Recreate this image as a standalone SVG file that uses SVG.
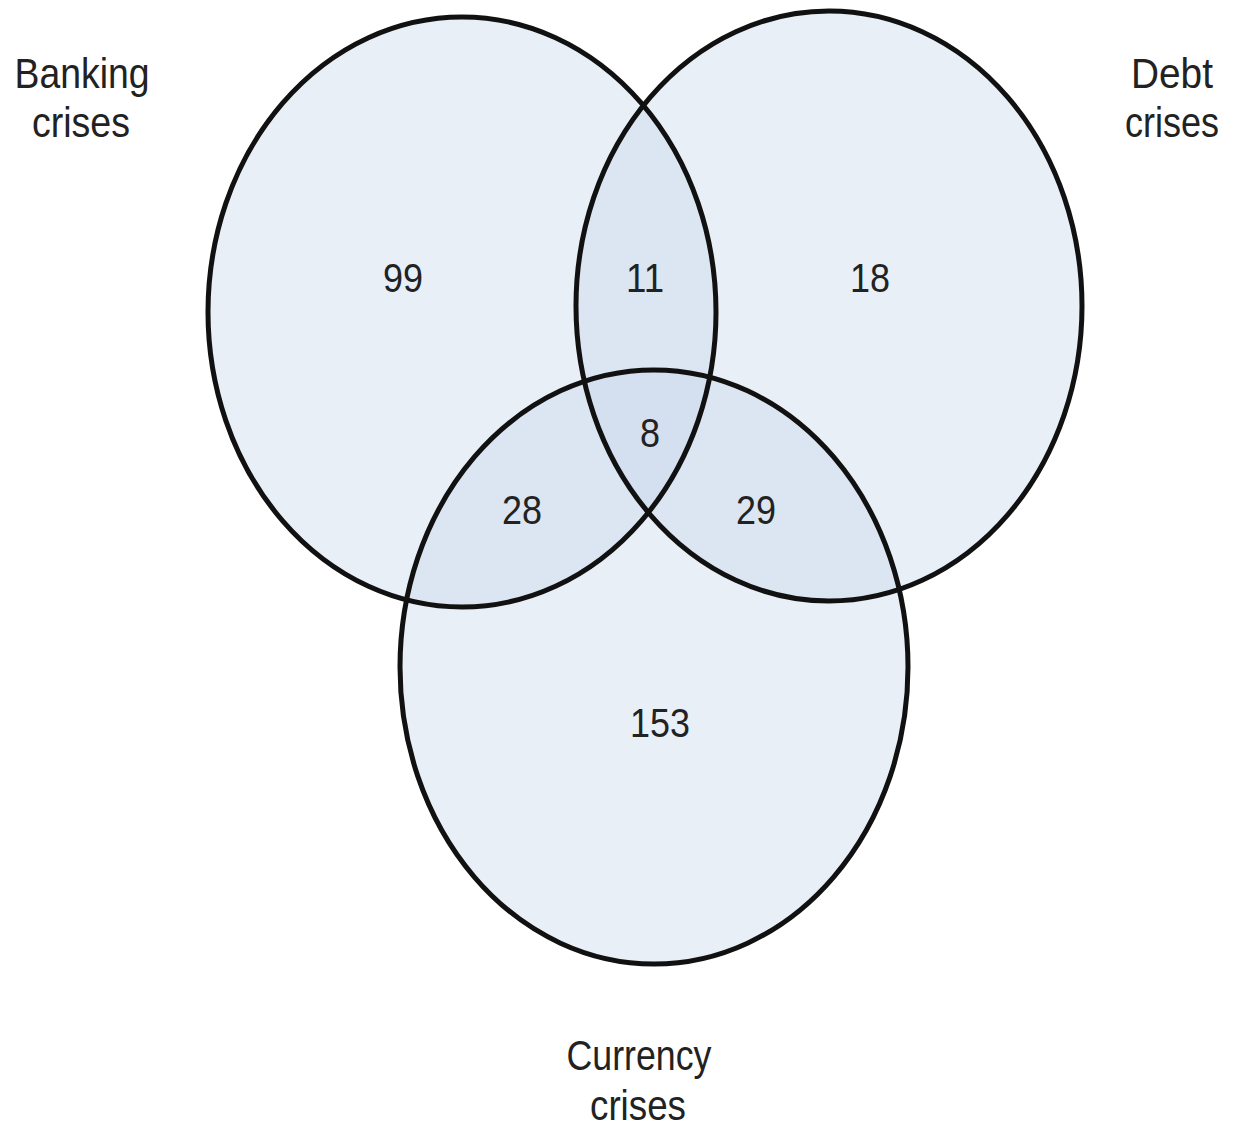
<svg xmlns="http://www.w3.org/2000/svg" width="1234" height="1128" viewBox="0 0 1234 1128">
<style>
.set{fill:rgb(200,215,235);fill-opacity:0.4;}
.edge{fill:none;stroke:#111;stroke-width:5;}
text{font-family:"Liberation Sans",Arial,sans-serif;fill:#222;text-anchor:middle;}
.lbl{font-size:42px;}
.num{font-size:40px;}
</style>
<rect width="1234" height="1128" fill="#fff"/>
<g id="fills">
<ellipse class="set" cx="462" cy="312" rx="254" ry="295"/>
<ellipse class="set" cx="829" cy="306" rx="253" ry="295"/>
<ellipse class="set" cx="654" cy="667" rx="254" ry="297"/>
</g>
<g id="banking">
<ellipse class="edge" cx="462" cy="312" rx="254" ry="295"/>
<text class="lbl" x="82" y="88" textLength="135" lengthAdjust="spacingAndGlyphs">Banking</text>
<text class="lbl" x="81" y="137" textLength="98" lengthAdjust="spacingAndGlyphs">crises</text>
</g>
<g id="debt">
<ellipse class="edge" cx="829" cy="306" rx="253" ry="295"/>
<text class="lbl" x="1172" y="88" textLength="82" lengthAdjust="spacingAndGlyphs">Debt</text>
<text class="lbl" x="1172" y="137" textLength="94" lengthAdjust="spacingAndGlyphs">crises</text>
</g>
<g id="currency">
<ellipse class="edge" cx="654" cy="667" rx="254" ry="297"/>
<text class="lbl" x="639" y="1070" textLength="145" lengthAdjust="spacingAndGlyphs">Currency</text>
<text class="lbl" x="638" y="1120" textLength="96" lengthAdjust="spacingAndGlyphs">crises</text>
</g>
<g id="counts">
<text class="num" x="403" y="292" textLength="40" lengthAdjust="spacingAndGlyphs">99</text>
<text class="num" x="645" y="292" textLength="38" lengthAdjust="spacingAndGlyphs">11</text>
<text class="num" x="870" y="292" textLength="40" lengthAdjust="spacingAndGlyphs">18</text>
<text class="num" x="650" y="447" textLength="20" lengthAdjust="spacingAndGlyphs">8</text>
<text class="num" x="522" y="524" textLength="40" lengthAdjust="spacingAndGlyphs">28</text>
<text class="num" x="756" y="524" textLength="40" lengthAdjust="spacingAndGlyphs">29</text>
<text class="num" x="660" y="737" textLength="60" lengthAdjust="spacingAndGlyphs">153</text>
</g>
</svg>
